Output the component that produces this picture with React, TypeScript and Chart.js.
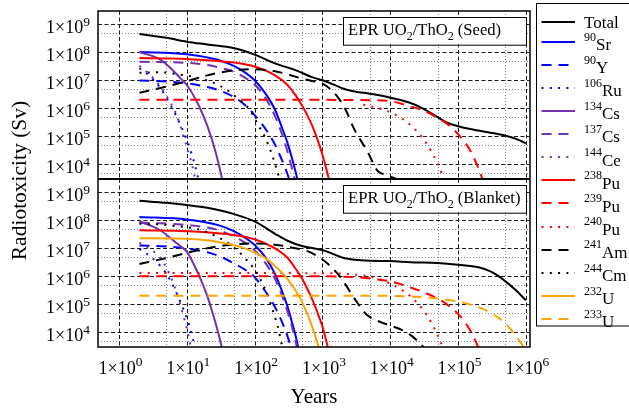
import React, { useEffect, useRef } from 'react';
import { Chart, registerables } from 'chart.js';

Chart.register(...registerables);

const FONT = "'Liberation Serif', 'Times New Roman', serif";

// ---- axes ----
const X_MIN = 0.49;
const X_MAX = 1.15e6;
const Y_MIN = 2985;
const Y_MAX = 2.985e9;
const X_TICK_EXPONENTS = [0, 1, 2, 3, 4, 5, 6];
const Y_TICK_EXPONENTS = [4, 5, 6, 7, 8, 9];
const PANEL_TITLES = ['Seed', 'Blanket'];

// ---- data: [years, Sv] ----
type P = [number, number];

const seedTotal: P[] = [[2,4.5e8],[5,3.3e8],[10,2.4e8],[20,1.9e8],[50,1.4e8],[100,8.3e7],[200,4.0e7],[400,2.3e7],[700,1.3e7],[1e3,1.0e7],[1.5e3,6.9e6],[2e3,5.1e6],[3e3,4.0e6],[5e3,3.3e6],[1e4,2.4e6],[2e4,1.55e6],[3e4,1.0e6],[5e4,4.8e5],[7e4,3.0e5],[1e5,2.3e5],[2e5,1.6e5],[3e5,1.35e5],[5e5,1.05e5],[7e5,8.3e4],[1e6,5.6e4]];
const seedSr90: P[] = [[2,1.02e8],[10,8.5e7],[30,5.2e7],[50,3.2e7],[70,2.0e7],[100,1.0e7],[150,2.95e6],[200,8.9e5],[250,2.2e5],[300,6.6e4],[350,1.9e4],[400,5.6e3],[450,1.6e3]];
const seedY90: P[] = [[2,9.8e6],[5,9.1e6],[10,7.8e6],[20,5.75e6],[30,4.4e6],[50,2.5e6],[70,1.4e6],[100,5.75e5],[150,1.6e5],[200,5.0e4],[250,1.5e4],[300,5.0e3],[350,1.6e3]];
const seedRu106: P[] = [[2,2.7e7],[3,1.26e7],[4,5.6e6],[5,2.4e6],[7,5.2e5],[10,7.4e4],[12,2.0e4],[14,5.2e3],[16,1.26e3]];
const seedCs134: P[] = [[2,1.02e8],[4,5.6e7],[6,2.5e7],[8,1.2e7],[10,6.8e6],[15,1.26e6],[20,2.4e5],[25,4.6e4],[30,8.7e3],[35,1.6e3]];
const seedCs137: P[] = [[2,4.6e7],[10,4.2e7],[20,3.5e7],[35,2.6e7],[50,2.0e7],[70,1.3e7],[100,7.1e6],[150,2.0e6],[200,5.2e5],[250,1.3e5],[300,3.3e4],[350,8.3e3],[400,2.1e3]];
const seedCe144: P[] = [[2,3.3e7],[3,1.4e7],[4,6.3e6],[5,2.8e6],[7,6.0e5],[10,4.2e4],[12,8.9e3],[14,1.6e3]];
const seedPu238: P[] = [[2,6.2e7],[10,5.75e7],[50,4.3e7],[100,3.1e7],[200,1.5e7],[300,7.1e6],[400,2.95e6],[500,1.26e6],[600,5.6e5],[700,2.5e5],[800,1.1e5],[1e3,2.2e4],[1.2e3,4.2e3],[1.4e3,7.9e2]];
const seedPu239: P[] = [[2,2.0e6],[1e3,2.0e6],[5e3,1.95e6],[1e4,1.8e6],[2e4,1.15e6],[3e4,8.5e5],[5e4,4.6e5],[7e4,2.7e5],[1e5,1.2e5],[1.5e5,3.2e4],[2e5,7.1e3],[2.5e5,1.6e3]];
const seedPu240: P[] = [[4e3,1.35e6],[5e3,1.2e6],[7e3,9.8e5],[1e4,7.2e5],[1.5e4,4.3e5],[2e4,2.5e5],[3e4,8.7e4],[4e4,3.0e4],[5e4,1.05e4],[6e4,3.6e3],[7e4,1.26e3]];
const seedAm241: P[] = [[2,3.6e6],[5,6.0e6],[10,9.3e6],[20,1.5e7],[30,1.86e7],[50,2.3e7],[70,2.45e7],[100,2.5e7],[200,2.1e7],[300,1.66e7],[500,1.15e7],[700,9.5e6],[1e3,7.6e6],[1.4e3,4.2e6],[1.8e3,2.0e6],[2.3e3,7.1e5],[2.8e3,2.3e5],[3.5e3,8.5e4],[4.5e3,3.2e4],[5.5e3,1.2e4],[6.5e3,5.8e3],[8e3,4.4e3],[1e4,3.6e3],[1.5e4,2.5e3],[2e4,1.8e3]];
const seedCm244: P[] = [[2,1.85e7],[4,1.95e7],[7,1.66e7],[15,1.2e7],[34,5.6e6],[57,2.2e6],[85,8.7e5],[112,2.6e5],[140,1.0e5],[177,2.5e4],[198,1.1e4],[220,4.8e3],[250,1.5e3]];

const blTotal: P[] = [[2,5.0e8],[5,4.2e8],[10,3.5e8],[20,2.8e8],[35,2.1e8],[50,1.66e8],[100,9.1e7],[200,3.3e7],[300,1.9e7],[500,1.2e7],[700,1.02e7],[1e3,8.7e6],[1.5e3,6.0e6],[2e3,4.6e6],[3e3,3.9e6],[5e3,3.6e6],[1e4,3.5e6],[2e4,3.2e6],[5e4,3.0e6],[1e5,2.6e6],[2e5,2.1e6],[3e5,1.5e6],[4e5,1.0e6],[5e5,6.6e5],[7e5,3.3e5],[1e6,1.4e5]];
const blSr90: P[] = [[2,1.32e8],[10,1.07e8],[30,6.6e7],[50,4.0e7],[70,2.5e7],[100,1.32e7],[150,4.2e6],[200,1.2e6],[250,3.2e5],[300,9.5e4],[350,2.6e4],[400,7.9e3],[450,2.2e3]];
const blY90: P[] = [[2,1.26e7],[5,1.15e7],[10,9.8e6],[20,7.2e6],[35,4.5e6],[50,2.8e6],[70,1.8e6],[100,9.3e5],[150,2.5e5],[200,7.9e4],[250,2.5e4],[300,8.3e3],[350,2.5e3]];
const blRu106: P[] = [[2,9.5e6],[3,4.8e6],[4,2.45e6],[5,1.26e6],[6,5.6e5],[7,2.6e5],[8,1.26e5],[9,6.3e4],[10,3.2e4],[11,1.6e4],[12,7.1e3],[13,3.2e3],[14,1.4e3]];
const blCs134: P[] = [[2,9.1e7],[4,4.5e7],[6,2.1e7],[8,1.2e7],[10,7.6e6],[15,1.12e6],[20,2.0e5],[25,3.5e4],[30,7.1e3],[35,1.4e3]];
const blCs137: P[] = [[2,8.3e7],[10,6.8e7],[30,4.4e7],[50,2.6e7],[70,1.66e7],[100,8.5e6],[150,2.6e6],[200,7.9e5],[250,2.2e5],[300,6.3e4],[350,1.8e4],[400,5.0e3],[450,1.4e3]];
const blCe144: P[] = [[2,1.6e7],[3,8.9e6],[4,4.7e6],[5,2.0e6],[6,7.9e5],[7,2.8e5],[8,9.5e4],[9,3.5e4],[10,1.4e4],[11,4.8e3],[12,1.8e3]];
const blPu238: P[] = [[2,4.4e7],[10,4.1e7],[50,3.0e7],[100,2.1e7],[200,1.0e7],[300,4.8e6],[400,1.9e6],[500,8.3e5],[600,3.5e5],[700,1.6e5],[800,7.1e4],[1e3,1.6e4],[1.15e3,4.5e3],[1.3e3,1.26e3]];
const blPu239: P[] = [[2,1.0e6],[1e3,1.0e6],[3e3,9.3e5],[6e3,7.9e5],[1e4,6.6e5],[2e4,4.0e5],[3e4,2.8e5],[5e4,1.6e5],[7e4,9.5e4],[1e5,4.5e4],[1.5e5,1.2e4],[2e5,2.8e3],[2.5e5,6.3e2]];
const blPu240: P[] = [[2,1.32e6],[1e3,1.29e6],[3e3,1.15e6],[6e3,8.9e5],[1e4,5.5e5],[1.5e4,3.2e5],[2e4,1.9e5],[3e4,6.6e4],[4e4,2.3e4],[5e4,7.9e3],[6e4,2.75e3],[7e4,9.5e2]];
const blAm241: P[] = [[2,2.75e6],[5,4.5e6],[10,6.9e6],[20,1.0e7],[35,1.26e7],[50,1.38e7],[100,1.48e7],[200,1.35e7],[400,1.0e7],[600,7.9e6],[900,4.8e6],[1.2e3,2.8e6],[1.8e3,1.0e6],[2.3e3,4.2e5],[2.8e3,2.0e5],[3.5e3,8.9e4],[4.5e3,4.2e4],[6e3,2.8e4],[8e3,2.1e4],[1e4,1.74e4],[1.5e4,1.2e4],[2e4,7.9e3],[2.7e4,4.2e3],[3.5e4,2.0e3]];
const blCm244: P[] = [[2,7.6e7],[4,7.1e7],[7,6.2e7],[15,4.7e7],[34,2.0e7],[54,8.9e6],[71,4.6e6],[100,1.74e6],[133,5.0e5],[167,1.3e5],[198,3.7e4],[220,1.6e4],[248,4.2e3],[270,1.8e3]];
const blU232: P[] = [[2,2.3e7],[10,2.2e7],[50,1.3e7],[100,7.2e6],[150,4.2e6],[200,2.3e6],[300,8.5e5],[400,3.2e5],[500,1.2e5],[600,4.5e4],[700,1.66e4],[800,6.3e3],[900,2.4e3],[1e3,8.9e2]];
const blU233: P[] = [[2,2.0e5],[1e3,2.0e5],[1e4,2.0e5],[3e4,1.8e5],[5e4,1.6e5],[1e5,1.26e5],[2e5,7.9e4],[3e5,5.0e4],[4e5,3.2e4],[5e5,2.0e4],[6e5,1.26e4],[7e5,7.9e3],[8e5,5.0e3],[9e5,3.3e3],[1e6,2.0e3]];

// ---- series (legend order) ----
const BLACK = '#000000';
const BLUE = '#0000ff';
const PURPLE = '#7530b0';
const RED = '#ff0000';
const ORANGE = '#ffa500';
type Style = 'solid' | 'dashed' | 'dotted';
const SERIES: { sup: string; name: string; color: string; style: Style; seed: P[] | null; blanket: P[] | null }[] = [
  { sup: '', name: 'Total', color: BLACK, style: 'solid', seed: seedTotal, blanket: blTotal },
  { sup: '90', name: 'Sr', color: BLUE, style: 'solid', seed: seedSr90, blanket: blSr90 },
  { sup: '90', name: 'Y', color: BLUE, style: 'dashed', seed: seedY90, blanket: blY90 },
  { sup: '106', name: 'Ru', color: BLUE, style: 'dotted', seed: seedRu106, blanket: blRu106 },
  { sup: '134', name: 'Cs', color: PURPLE, style: 'solid', seed: seedCs134, blanket: blCs134 },
  { sup: '137', name: 'Cs', color: PURPLE, style: 'dashed', seed: seedCs137, blanket: blCs137 },
  { sup: '144', name: 'Ce', color: PURPLE, style: 'dotted', seed: seedCe144, blanket: blCe144 },
  { sup: '238', name: 'Pu', color: RED, style: 'solid', seed: seedPu238, blanket: blPu238 },
  { sup: '239', name: 'Pu', color: RED, style: 'dashed', seed: seedPu239, blanket: blPu239 },
  { sup: '240', name: 'Pu', color: RED, style: 'dotted', seed: seedPu240, blanket: blPu240 },
  { sup: '241', name: 'Am', color: BLACK, style: 'dashed', seed: seedAm241, blanket: blAm241 },
  { sup: '244', name: 'Cm', color: BLACK, style: 'dotted', seed: seedCm244, blanket: blCm244 },
  { sup: '232', name: 'U', color: ORANGE, style: 'solid', seed: null, blanket: blU232 },
  { sup: '233', name: 'U', color: ORANGE, style: 'dashed', seed: null, blanket: blU233 },
];

const DASH: Record<Style, number[]> = { solid: [], dashed: [10, 7], dotted: [2, 6.3] };
const LINE_W = 2;

type Part = { t: string; k?: 'sup' | 'sub' };

function drawRich(ctx: CanvasRenderingContext2D, parts: Part[], x: number, y: number, size: number, small: number, align: 'left' | 'right' | 'center', supOff = 8, subOff = 5) {
  let w = 0;
  for (const p of parts) {
    ctx.font = `${p.k ? small : size}px ${FONT}`;
    w += ctx.measureText(p.t).width;
  }
  let cx = align === 'left' ? x : align === 'right' ? x - w : x - w / 2;
  ctx.textAlign = 'left';
  ctx.textBaseline = 'alphabetic';
  for (const p of parts) {
    ctx.font = `${p.k ? small : size}px ${FONT}`;
    const dy = p.k === 'sup' ? -supOff : p.k === 'sub' ? subOff : 0;
    ctx.fillText(p.t, cx, y + dy);
    cx += ctx.measureText(p.t).width;
  }
}

function hline(ctx: CanvasRenderingContext2D, x1: number, x2: number, y: number) {
  ctx.beginPath();
  ctx.moveTo(x1, y);
  ctx.lineTo(x2, y);
  ctx.stroke();
}
function vline(ctx: CanvasRenderingContext2D, x: number, y1: number, y2: number) {
  ctx.beginPath();
  ctx.moveTo(x, y1);
  ctx.lineTo(x, y2);
  ctx.stroke();
}

const panelPlugin = {
  id: 'eprPanels',
  beforeDraw(chart: any) {
    const ctx = chart.ctx as CanvasRenderingContext2D;
    ctx.save();
    ctx.fillStyle = '#ffffff';
    ctx.fillRect(0, 0, chart.width, chart.height);
    ctx.restore();
  },
  beforeDatasetsDraw(chart: any) {
    const ctx = chart.ctx as CanvasRenderingContext2D;
    const a = chart.chartArea;
    const xs = chart.scales.x;
    ctx.save();
    ctx.lineWidth = 1;
    for (const id of ['yTop', 'yBot']) {
      const ys = chart.scales[id];
      ctx.strokeStyle = '#8a8a8a';
      ctx.setLineDash([1, 2]);
      for (const e of X_TICK_EXPONENTS.slice(0, -1)) {
        const px = Math.round(xs.getPixelForValue(5 * Math.pow(10, e))) + 0.5;
        vline(ctx, px, ys.top, ys.bottom);
      }
      for (const e of [Y_TICK_EXPONENTS[0] - 1, ...Y_TICK_EXPONENTS.slice(0, -1)]) {
        const py = Math.round(ys.getPixelForValue(5 * Math.pow(10, e))) + 0.5;
        hline(ctx, a.left, a.right, py);
      }
      ctx.strokeStyle = '#1a1a1a';
      ctx.setLineDash([4, 2.5]);
      for (const e of X_TICK_EXPONENTS) {
        const px = Math.round(xs.getPixelForValue(Math.pow(10, e))) + 0.5;
        vline(ctx, px, ys.top, ys.bottom);
      }
      for (const e of Y_TICK_EXPONENTS) {
        const py = Math.round(ys.getPixelForValue(Math.pow(10, e))) + 0.5;
        hline(ctx, a.left, a.right, py);
      }
    }
    ctx.restore();
  },
  beforeDatasetDraw(chart: any, args: any) {
    const ctx = chart.ctx as CanvasRenderingContext2D;
    const a = chart.chartArea;
    const ys = args.meta.yScale;
    ctx.save();
    ctx.beginPath();
    ctx.rect(a.left, ys.top, a.right - a.left, ys.bottom - ys.top);
    ctx.clip();
  },
  afterDatasetDraw(chart: any) {
    chart.ctx.restore();
  },
  afterDatasetsDraw(chart: any) {
    const ctx = chart.ctx as CanvasRenderingContext2D;
    const a = chart.chartArea;
    const top = chart.scales.yTop;
    const bot = chart.scales.yBot;
    ctx.save();
    ctx.setLineDash([]);
    ctx.strokeStyle = '#000';
    [top, bot].forEach((ys: any, i: number) => {
      const bw = 183;
      const bh = 27.7;
      const bx = a.right - 4.5 - bw;
      const by = ys.top + 5.7;
      ctx.fillStyle = '#fff';
      ctx.fillRect(bx, by, bw, bh);
      ctx.lineWidth = 1;
      ctx.strokeRect(Math.round(bx) + 0.5, Math.round(by) + 0.5, bw, bh);
      ctx.fillStyle = '#000';
      drawRich(ctx, [
        { t: 'EPR UO' }, { t: '2', k: 'sub' }, { t: '/ThO' }, { t: '2', k: 'sub' }, { t: ` (${PANEL_TITLES[i]})` },
      ], bx + 5.6, by + 18.3, 16.6, 12, 'left', 8, 4.5);
    });
    ctx.lineWidth = 1.5;
    ctx.strokeRect(a.left, a.top, a.right - a.left, a.bottom - a.top);
    ctx.lineWidth = 2;
    hline(ctx, a.left, a.right, top.bottom);
    ctx.restore();
  },
  afterDraw(chart: any) {
    const ctx = chart.ctx as CanvasRenderingContext2D;
    const a = chart.chartArea;
    const xs = chart.scales.x;
    ctx.save();
    ctx.fillStyle = '#000';
    for (const id of ['yTop', 'yBot']) {
      const ys = chart.scales[id];
      for (const e of Y_TICK_EXPONENTS) {
        const py = ys.getPixelForValue(Math.pow(10, e));
        drawRich(ctx, [{ t: '1×10' }, { t: String(e), k: 'sup' }], a.left - 8, py + 9, 18, 13.5, 'right', 7.5);
      }
    }
    for (const e of X_TICK_EXPONENTS) {
      const px = xs.getPixelForValue(Math.pow(10, e));
      drawRich(ctx, [{ t: '1×10' }, { t: String(e), k: 'sup' }], px + 1.5, a.bottom + 27, 18, 13.5, 'center', 8.5);
    }
    ctx.font = `21px ${FONT}`;
    ctx.textAlign = 'center';
    ctx.textBaseline = 'alphabetic';
    ctx.fillText('Years', (a.left + a.right) / 2, a.bottom + 56);
    ctx.save();
    ctx.translate(26, (a.top + a.bottom) / 2 + 1.5);
    ctx.rotate(-Math.PI / 2);
    ctx.font = `21.5px ${FONT}`;
    ctx.fillText('Radiotoxicity (Sv)', 0, 0);
    ctx.restore();
    const lx = 536.5;
    const ly = 3.5;
    ctx.lineWidth = 1;
    ctx.strokeStyle = '#000';
    ctx.strokeRect(lx, ly, 120, 322.5);
    SERIES.forEach((s, i) => {
      const y = i === 0 ? 22.3 : 41.7 + 23.1 * (i - 1);
      ctx.save();
      ctx.strokeStyle = s.color;
      ctx.lineWidth = LINE_W;
      ctx.lineCap = 'butt';
      ctx.setLineDash(DASH[s.style]);
      hline(ctx, 541.5, 575, Math.round(y));
      ctx.restore();
      ctx.fillStyle = '#000';
      if (s.sup) {
        drawRich(ctx, [{ t: s.sup, k: 'sup' }, { t: s.name }], 584, y + 8.3, 17, 12, 'left', 9.5);
      } else {
        drawRich(ctx, [{ t: s.name }], 584, y + 6, 17, 12, 'left');
      }
    });
    ctx.restore();
  },
};

function toPts(arr: P[]) {
  return arr.map(([x, y]) => ({ x, y }));
}

export default function App() {
  const ref = useRef<HTMLCanvasElement>(null);
  useEffect(() => {
    const datasets: any[] = [];
    let idx = 0;
    SERIES.forEach((s) => {
      ([['yTop', s.seed], ['yBot', s.blanket]] as [string, P[] | null][]).forEach(([axis, arr]) => {
        if (!arr) return;
        datasets.push({
          label: (s.sup ? s.sup : '') + s.name + ' ' + axis,
          data: toPts(arr),
          xAxisID: 'x',
          yAxisID: axis,
          borderColor: s.color,
          backgroundColor: s.color,
          borderWidth: LINE_W,
          borderDash: DASH[s.style],
          borderCapStyle: 'butt',
          pointRadius: 0,
          pointHoverRadius: 0,
          fill: false,
          cubicInterpolationMode: 'monotone',
          order: -idx,
        });
        idx++;
      });
    });
    const chart = new Chart(ref.current as HTMLCanvasElement, {
      type: 'line',
      data: { datasets },
      options: {
        responsive: false,
        animation: false,
        devicePixelRatio: 1,
        events: [],
        layout: { padding: { left: 0, right: 99, top: 11, bottom: 0 } },
        plugins: { legend: { display: false }, tooltip: { enabled: false }, title: { display: false } },
        scales: {
          x: {
            type: 'logarithmic',
            position: 'bottom',
            min: X_MIN,
            max: X_MAX,
            ticks: { display: false },
            grid: { display: false },
            border: { display: false },
            afterFit: (s: any) => { s.height = 61; },
          },
          yTop: {
            type: 'logarithmic',
            position: 'left',
            stack: 'panels',
            stackWeight: 1,
            weight: 1,
            min: Y_MIN,
            max: Y_MAX,
            ticks: { display: false },
            grid: { display: false },
            border: { display: false },
            afterFit: (s: any) => { s.width = 98; },
          },
          yBot: {
            type: 'logarithmic',
            position: 'left',
            stack: 'panels',
            stackWeight: 1,
            weight: 0,
            min: Y_MIN,
            max: Y_MAX,
            ticks: { display: false },
            grid: { display: false },
            border: { display: false },
            afterFit: (s: any) => { s.width = 98; },
          },
        },
      } as any,
      plugins: [panelPlugin as any],
    });
    return () => chart.destroy();
  }, []);
  return (
    <div style={{ position: 'fixed', left: 0, top: 0, width: 629, height: 408, background: '#fff' }}>
      <canvas ref={ref} width={629} height={408} style={{ display: 'block', width: 629, height: 408 }} />
    </div>
  );
}
